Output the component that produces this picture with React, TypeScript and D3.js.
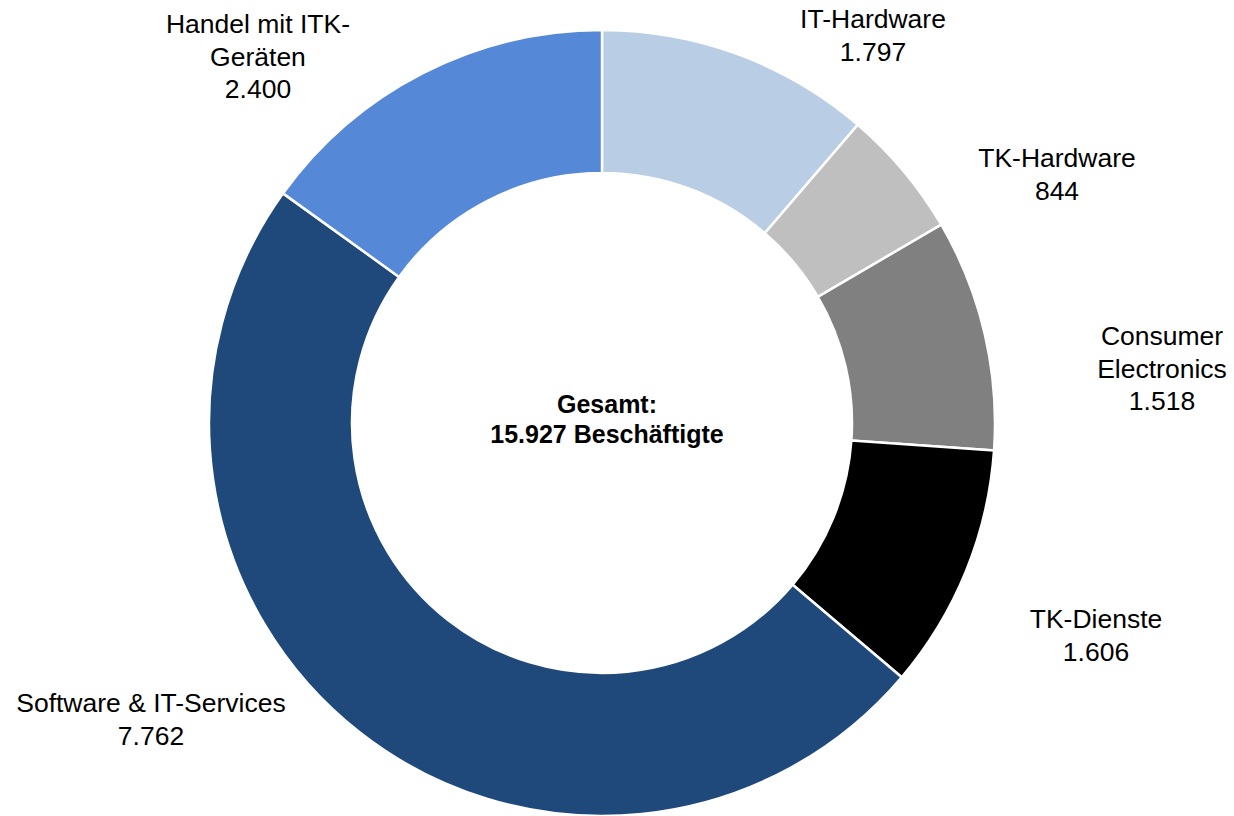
import React from "react";
import * as d3 from "d3";

const categories = ["IT-Hardware", "TK-Hardware", "Consumer Electronics", "TK-Dienste", "Software & IT-Services", "Handel mit ITK-Geräten"];
const values = [1797, 844, 1518, 1606, 7762, 2400];
const labelLines = [
  ["IT-Hardware"],
  ["TK-Hardware"],
  ["Consumer", "Electronics"],
  ["TK-Dienste"],
  ["Software & IT-Services"],
  ["Handel mit ITK-", "Geräten"],
];
const colors = ["#B9CDE5", "#BFBFBF", "#808080", "#000000", "#1F497B", "#5588D6"];
const totalLabel = ["Gesamt:", "15.927 Beschäftigte"];

// layout (label anchor: center x, first baseline y)
const labelPos: [number, number][] = [
  [873, 28],
  [1057, 167],
  [1162, 345],
  [1096, 628],
  [151, 712],
  [258, 33],
];

const W = 1234;
const H = 816;
const CX = 602;
const CY = 423;
const R_OUT = 393;
const R_IN = 250;
const LINE = 32.5;
const FONT = "'Liberation Sans', Arial, sans-serif";

const fmt = (v: number) => d3.format(",")(v).replace(/,/g, ".");

export default function App() {
  const pie = d3.pie<number>().sort(null).value((d) => d);
  const arcs = pie(values);
  const arc = d3.arc<d3.PieArcDatum<number>>().innerRadius(R_IN).outerRadius(R_OUT);

  return (
    <svg
      width={W}
      height={H}
      style={{ position: "absolute", left: 0, top: 0, background: "#fff" }}
      fontFamily={FONT}
    >
      <g transform={`translate(${CX},${CY})`}>
        {arcs.map((a, i) => (
          <path key={categories[i]} d={arc(a) || ""} fill={colors[i]} stroke="#fff" strokeWidth={2.5} />
        ))}
      </g>
      {categories.map((c, i) => {
        const [x, y] = labelPos[i];
        const lines = [...labelLines[i], fmt(values[i])];
        return (
          <text key={c} x={x} y={y} textAnchor="middle" fontSize={26.5} fill="#000">
            {lines.map((l, j) => (
              <tspan key={j} x={x} y={y + j * LINE}>
                {l}
              </tspan>
            ))}
          </text>
        );
      })}
      <text x={607} y={413} textAnchor="middle" fontSize={25} fontWeight="bold" fill="#000">
        <tspan x={607} y={413}>{totalLabel[0]}</tspan>
        <tspan x={607} y={443}>{totalLabel[1]}</tspan>
      </text>
    </svg>
  );
}
